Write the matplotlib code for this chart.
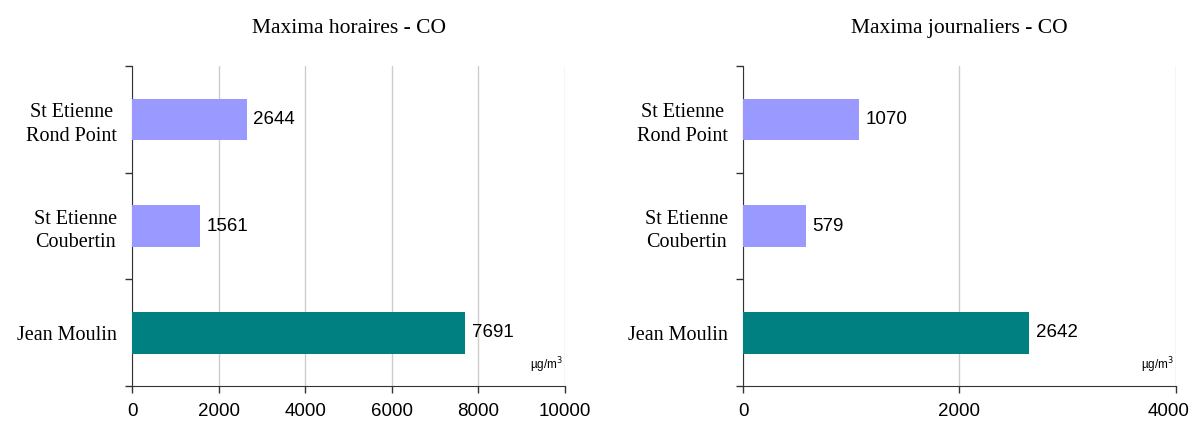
import numpy as np
import matplotlib
matplotlib.use("Agg")
import matplotlib.pyplot as plt
from matplotlib.ticker import FixedLocator
from matplotlib.transforms import ScaledTranslation

# stations, top to bottom
stations = ["St Etienne\nRond Point", "St Etienne\nCoubertin", "Jean Moulin"]
bar_colors = ["#9999FF", "#9999FF", "#008080"]

horaires = [2644, 1561, 7691]
journaliers = [1070, 579, 2642]

panels = [
    ("Maxima horaires - CO", horaires, 10000, [0, 2000, 4000, 6000, 8000, 10000]),
    ("Maxima journaliers - CO", journaliers, 4000, [0, 2000, 4000]),
]

serif = "Liberation Serif"
sans = "Liberation Sans"

fig = plt.figure(figsize=(11.94, 4.21), dpi=100)
lefts = [0.1106, 0.6223]

for left, (title, vals, xmax, xticks) in zip(lefts, panels):
    ax = fig.add_axes([left, 0.083, 0.3626, 0.760])
    ypos = np.arange(len(stations))[::-1].astype(float)
    ax.barh(ypos, vals, height=0.39, color=bar_colors, zorder=3)
    ax.set_xlim(0, xmax)
    ax.set_ylim(-0.5, len(stations) - 0.5)

    for y, v in zip(ypos, vals):
        ax.annotate("%d" % v, (v, y), xytext=(5, 0), textcoords="offset points",
                    va="center", ha="left", fontsize=13.5, family=sans, zorder=4)

    # x axis
    ax.set_xticks(xticks)
    ax.set_xticklabels(["%d" % t for t in xticks], family=sans, fontsize=13.5)
    ax.tick_params(axis="x", direction="out", length=5, width=1, pad=7,
                   color="#333333")
    ax.xaxis.grid(True, color="#cccccc", lw=1, zorder=0)

    # y axis: labels at bar centres, ticks between categories
    ax.set_yticks(ypos)
    ax.set_yticklabels(stations, family=serif, fontsize=14.5,
                       multialignment="center", linespacing=1.35)
    ax.tick_params(axis="y", which="major", length=0, pad=11)
    ax.yaxis.set_minor_locator(FixedLocator([-0.5, 0.5, 1.5, 2.5]))
    ax.tick_params(axis="y", which="minor", direction="out", length=5,
                   width=1, color="#333333")

    for s in ["top", "right"]:
        ax.spines[s].set_visible(False)
    ax.spines["left"].set_color("#333333")
    ax.spines["bottom"].set_color("#333333")

    ax.set_title(title, family=serif, fontsize=15.5, pad=24)
    ax.text(0.995, 0.035, r"µg/m$^3$", transform=ax.transAxes,
            ha="right", va="bottom", fontsize=8.5, family=sans)

# keep the last tick label of the right panel inside the figure
last = fig.axes[1].get_xticklabels()[-1]
last.set_transform(last.get_transform()
                   + ScaledTranslation(-5 / 72, 0, fig.dpi_scale_trans))

fig.savefig("out.png", dpi=100)
